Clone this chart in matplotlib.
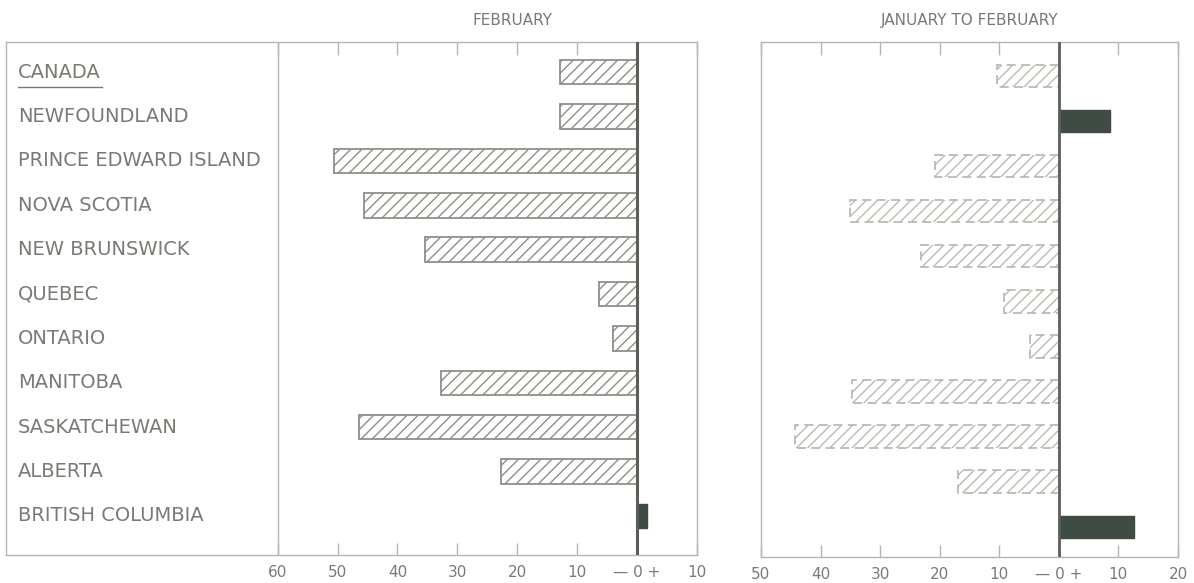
import matplotlib
matplotlib.use("Agg")
import matplotlib.pyplot as plt

# ---- data ----
provinces = ["CANADA", "NEWFOUNDLAND", "PRINCE EDWARD ISLAND", "NOVA SCOTIA",
             "NEW BRUNSWICK", "QUEBEC", "ONTARIO", "MANITOBA", "SASKATCHEWAN",
             "ALBERTA", "BRITISH COLUMBIA"]
feb_change = [-12.9, -12.9, -50.6, -45.6, -35.4, -6.4, -4.0, -32.8, -46.4, -22.7, 1.7]
jan_feb_change = [-10.3, 8.6, -20.8, -35.1, -23.1, -9.2, -4.9, -34.8, -44.3, -17.0, 12.6]

feb_ticks = [-60, -50, -40, -30, -20, -10, 0, 10]
feb_ticklabels = ["60", "50", "40", "30", "20", "10", "\u2014 0 +", "10"]
jf_ticks = [-50, -40, -30, -20, -10, 0, 10, 20]
jf_ticklabels = ["50", "40", "30", "20", "10", "\u2014 0 +", "10", "20"]

title_left = "FEBRUARY"
title_right = "JANUARY TO FEBRUARY"

# ---- style ----
TXT = "#767c73"
FRAME = "#b4b7ae"
HATCH_EDGE = "#8c9187"
LIGHT_EDGE = "#b9bcb2"
DARK = "#3e4c43"
ZERO = "#5a6058"

plt.rcParams["font.family"] = ["DejaVu Sans"]
plt.rcParams["hatch.linewidth"] = 1.0

fig = plt.figure(figsize=(11.94, 5.83), dpi=100)
fig.patch.set_facecolor("white")

W, H = 1194.0, 583.0
# left axes: frame spans x 6..697 px, y 42..555 px
axL = fig.add_axes([6 / W, (H - 555) / H, (697 - 6) / W, (555 - 42) / H])
# right axes: x 761..1178, y 42..557
axR = fig.add_axes([761 / W, (H - 557) / H, (1178 - 761) / W, (557 - 42) / H])

n = len(provinces)

# ---------- left panel ----------
xminL = -60 - (278 - 6) / 6.0
axL.set_xlim(xminL, 10)
axL.set_ylim(n - 1 + 0.88, -0.68)
for i, v in enumerate(feb_change):
    if v < 0:
        axL.barh(i, v, height=0.55, left=0, facecolor="white",
                 edgecolor=HATCH_EDGE, hatch="///", linewidth=1.3, zorder=3)
    else:
        axL.barh(i, v, height=0.55, left=0, facecolor=DARK,
                 edgecolor=DARK, linewidth=1.0, zorder=3)
axL.axvline(0, color=ZERO, lw=2.2, zorder=4)
axL.axvline(-60, color=FRAME, lw=1.0, zorder=2)

for i, name in enumerate(provinces):
    axL.text(xminL + 12 / 6.0, i, name, ha="left", va="center",
             fontsize=14, color=TXT, zorder=5)
# underline CANADA
axL.plot([xminL + 12 / 6.0, xminL + 96 / 6.0], [0.34, 0.34], color=TXT, lw=1.0,
         zorder=5)

axL.set_xticks(feb_ticks)
axL.set_xticklabels(feb_ticklabels)
axL.set_yticks([])
axL.set_title(title_left, fontsize=11, color=TXT, pad=12, x=(512 - 6) / (697 - 6))

# ---------- right panel ----------
axR.set_xlim(-50, 20)
axR.set_ylim(n - 1 + 0.67, -0.75)
for i, v in enumerate(jan_feb_change):
    if v < 0:
        axR.barh(i, v, height=0.5, left=0, facecolor="white",
                 edgecolor=LIGHT_EDGE, hatch="///", linewidth=1.3,
                 linestyle=(0, (5, 3)), zorder=3)
    else:
        axR.barh(i, v, height=0.5, left=0, facecolor=DARK,
                 edgecolor=DARK, linewidth=1.0, zorder=3)
axR.axvline(0, color=ZERO, lw=2.0, zorder=4)
axR.set_xticks(jf_ticks)
axR.set_xticklabels(jf_ticklabels)
axR.set_yticks([])
axR.set_title(title_right, fontsize=11, color=TXT, pad=12)

for ax in (axL, axR):
    for s in ax.spines.values():
        s.set_color(FRAME)
        s.set_linewidth(1.0)
    ax.tick_params(axis="x", direction="in", length=9, width=1.0, color=FRAME,
                   top=True, bottom=True, labelsize=11, labelcolor=TXT, pad=7)
    ax.set_facecolor("white")

fig.savefig("out.png", dpi=100, facecolor="white")
